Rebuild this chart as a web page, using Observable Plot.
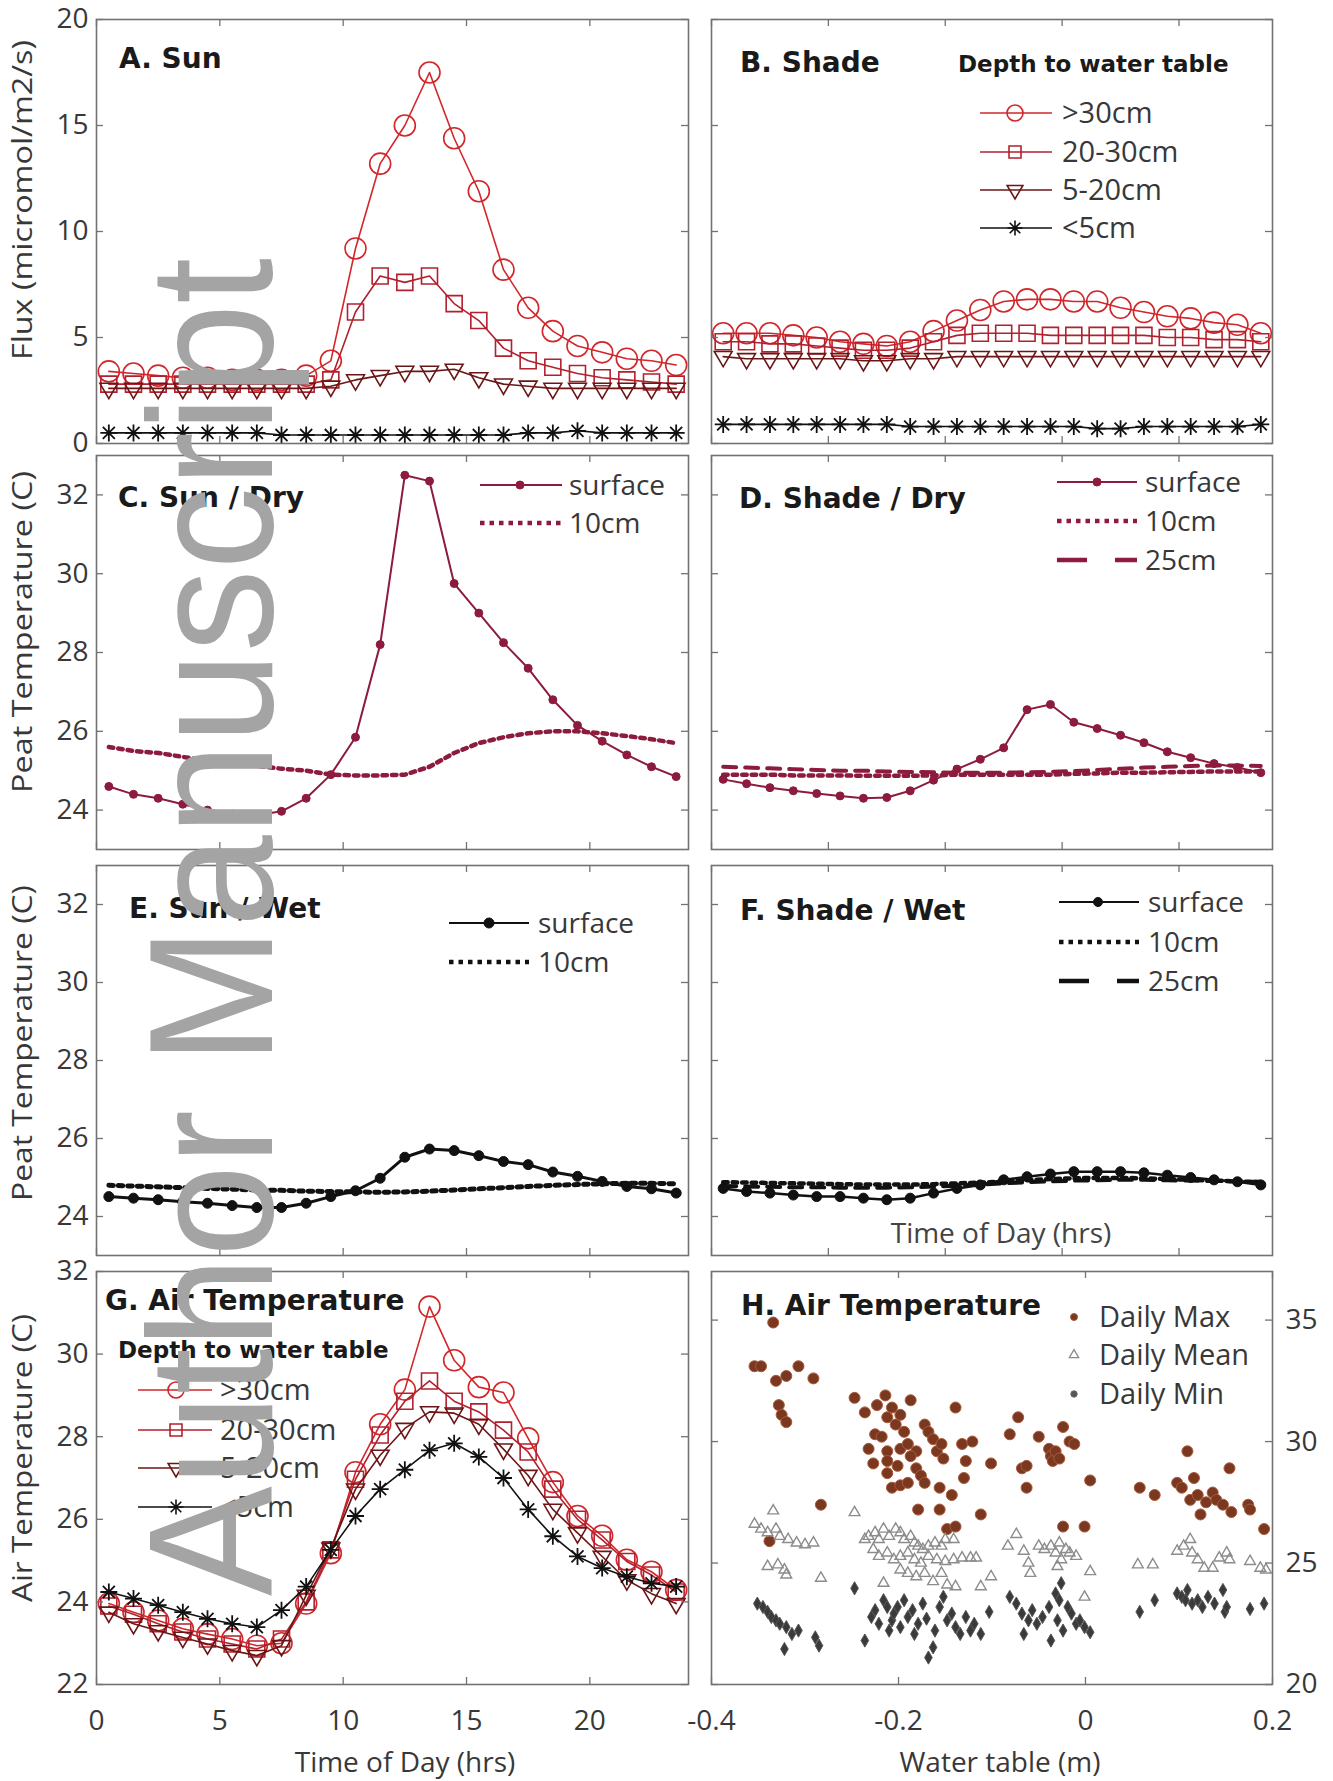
<!DOCTYPE html>
<html><head><meta charset="utf-8">
<script src="https://cdn.jsdelivr.net/npm/d3@7"></script>
<script src="https://cdn.jsdelivr.net/npm/@observablehq/plot@0.6"></script>
<style>
html,body{margin:0;padding:0;background:#fff;}
#fig{position:relative;width:1333px;height:1781px;overflow:hidden;background:#fff;}
</style></head>
<body><div id="fig"></div>
<script>
// ---------------- DATA ----------------
const hours = [0.5,1.5,2.5,3.5,4.5,5.5,6.5,7.5,8.5,9.5,10.5,11.5,12.5,13.5,14.5,15.5,16.5,17.5,18.5,19.5,20.5,21.5,22.5,23.5];

// A. Sun – flux (micromol/m2/s)
const sunGT30 = [3.4,3.3,3.2,3.1,3.1,3.0,3.0,3.0,3.2,3.9,9.2,13.2,15.0,17.5,14.4,11.9,8.2,6.4,5.3,4.6,4.3,4.0,3.9,3.7];
const sun2030 = [2.8,2.8,2.8,2.8,2.8,2.8,2.8,2.8,2.8,3.0,6.2,7.9,7.6,7.9,6.6,5.8,4.5,3.9,3.6,3.3,3.1,3.0,2.9,2.8];
const sun520  = [2.6,2.6,2.6,2.6,2.6,2.6,2.6,2.6,2.6,2.7,3.0,3.2,3.4,3.4,3.5,3.1,2.8,2.7,2.6,2.6,2.6,2.6,2.6,2.6];
const sunLT5  = [0.5,0.5,0.5,0.5,0.5,0.5,0.5,0.4,0.4,0.4,0.4,0.4,0.4,0.4,0.4,0.4,0.4,0.5,0.5,0.6,0.5,0.5,0.5,0.5];

// B. Shade – flux
const shadeGT30 = [5.2,5.2,5.2,5.1,5.0,4.8,4.7,4.6,4.8,5.3,5.8,6.3,6.7,6.8,6.8,6.7,6.7,6.4,6.2,6.0,5.9,5.7,5.6,5.2];
const shade2030 = [4.8,4.8,4.7,4.7,4.6,4.5,4.4,4.4,4.5,4.8,5.1,5.2,5.2,5.2,5.1,5.1,5.1,5.1,5.1,5.0,5.0,4.9,4.9,4.8];
const shade520  = [4.1,4.0,4.0,4.0,4.0,4.0,3.9,3.9,4.0,4.0,4.1,4.1,4.1,4.1,4.1,4.1,4.1,4.1,4.1,4.1,4.1,4.1,4.1,4.1];
const shadeLT5  = [0.9,0.9,0.9,0.9,0.9,0.9,0.9,0.9,0.8,0.8,0.8,0.8,0.8,0.8,0.8,0.8,0.7,0.7,0.8,0.8,0.8,0.8,0.8,0.9];

// C. Sun / Dry – peat temperature (C)
const sunDrySurf = [24.6,24.4,24.3,24.15,24.0,23.9,23.87,23.97,24.3,24.9,25.85,28.2,32.5,32.35,29.75,29.0,28.25,27.6,26.8,26.15,25.75,25.4,25.1,24.85];
const sunDry10   = [25.6,25.5,25.45,25.35,25.25,25.2,25.12,25.05,25.0,24.9,24.88,24.88,24.9,25.1,25.45,25.7,25.85,25.95,26.0,26.0,25.95,25.88,25.8,25.7];

// D. Shade / Dry
const shadeDrySurf = [24.78,24.67,24.57,24.49,24.42,24.36,24.3,24.32,24.49,24.76,25.04,25.29,25.58,26.55,26.68,26.23,26.07,25.9,25.71,25.48,25.33,25.18,25.08,24.95];
const shadeDry10   = [24.9,24.9,24.9,24.88,24.88,24.88,24.87,24.87,24.87,24.88,24.9,24.9,24.9,24.9,24.9,24.92,24.93,24.95,24.95,24.96,24.97,24.98,24.98,24.98];
const shadeDry25   = [25.1,25.08,25.06,25.04,25.02,25.0,25.0,24.98,24.97,24.96,24.95,24.95,24.95,24.96,24.97,24.99,25.02,25.05,25.08,25.1,25.12,25.13,25.13,25.12];

// E. Sun / Wet
const sunWetSurf = [24.51,24.47,24.43,24.38,24.34,24.28,24.23,24.23,24.34,24.51,24.66,24.98,25.52,25.73,25.69,25.56,25.41,25.33,25.14,25.03,24.9,24.77,24.71,24.6];
const sunWet10   = [24.8,24.78,24.76,24.74,24.72,24.7,24.68,24.67,24.65,24.64,24.63,24.62,24.63,24.65,24.68,24.71,24.74,24.77,24.8,24.82,24.84,24.85,24.85,24.84];

// F. Shade / Wet
const shadeWetSurf = [24.72,24.64,24.6,24.55,24.51,24.51,24.47,24.43,24.47,24.6,24.72,24.81,24.94,25.02,25.09,25.15,25.15,25.15,25.12,25.06,25.0,24.94,24.89,24.81];
const shadeWet10   = [24.88,24.87,24.86,24.85,24.84,24.83,24.82,24.82,24.82,24.83,24.85,24.87,24.9,24.93,24.96,24.98,24.99,24.99,24.98,24.96,24.94,24.92,24.9,24.88];
const shadeWet25   = [24.78,24.77,24.76,24.75,24.75,24.74,24.74,24.74,24.75,24.77,24.79,24.82,24.85,24.88,24.9,24.92,24.93,24.94,24.94,24.93,24.92,24.91,24.9,24.89];

// G. Air temperature (C)
const airGT30 = [23.96,23.75,23.55,23.35,23.22,23.1,22.94,23.0,23.96,25.18,27.14,28.3,29.14,31.15,29.85,29.2,29.07,27.96,26.9,26.08,25.6,25.02,24.73,24.29];
const air2030 = [23.9,23.7,23.47,23.27,23.1,22.98,22.86,23.1,24.0,25.26,26.97,28.04,28.86,29.35,28.86,28.6,28.16,27.63,26.73,26.0,25.5,24.98,24.65,24.24];
const air520  = [23.75,23.47,23.3,23.14,22.98,22.82,22.7,22.94,24.16,25.3,26.73,27.55,28.2,28.6,28.57,28.3,27.7,27.06,26.24,25.67,25.1,24.53,24.2,23.96];
const airLT5  = [24.24,24.08,23.92,23.75,23.59,23.47,23.39,23.8,24.37,25.26,26.08,26.73,27.2,27.67,27.84,27.51,27.0,26.24,25.59,25.1,24.82,24.61,24.45,24.37];

// H. Daily air temperature vs water table (m)
const hMaxWT = [-0.334,-0.354,-0.347,-0.331,-0.320,-0.307,-0.291,-0.328,-0.325,-0.320,-0.283,-0.338,-0.247,-0.236,-0.223,-0.214,-0.207,-0.198,-0.187,-0.212,-0.203,-0.194,-0.225,-0.218,-0.232,-0.212,-0.198,-0.190,-0.181,-0.172,-0.168,-0.163,-0.159,-0.154,-0.152,-0.227,-0.212,-0.201,-0.187,-0.181,-0.176,-0.212,-0.207,-0.198,-0.190,-0.172,-0.156,-0.143,-0.179,-0.156,-0.139,-0.132,-0.121,-0.128,-0.130,-0.112,-0.101,-0.148,-0.139,-0.081,-0.072,-0.068,-0.063,-0.063,-0.050,-0.039,-0.037,-0.035,-0.032,-0.028,-0.024,-0.017,-0.012,-0.024,-0.001,0.005,0.058,0.074,0.098,0.103,0.109,0.116,0.112,0.120,0.123,0.129,0.136,0.140,0.147,0.154,0.156,0.174,0.176,0.191];
const hMaxT  = [34.9,33.1,33.1,32.5,32.7,33.1,32.6,31.5,31.1,30.8,27.4,25.9,31.8,31.2,31.5,31.9,31.4,31.1,31.7,31.0,30.7,30.4,30.3,30.2,29.7,29.6,29.7,29.9,29.6,30.7,30.4,30.1,29.6,29.9,29.3,29.1,29.2,29.0,29.4,28.9,28.6,28.7,28.1,28.2,28.3,28.3,28.1,27.8,27.2,27.2,31.4,29.9,30.0,29.2,28.5,27.0,29.1,26.4,26.5,30.3,31.0,28.9,29.0,28.1,30.2,29.7,29.4,29.2,29.6,29.3,30.6,30.0,29.9,26.5,26.5,28.4,28.1,27.8,28.3,28.1,29.6,28.5,27.6,27.8,27.0,27.5,27.9,27.6,27.4,28.9,27.1,27.4,27.2,26.4];
const hMeanWT = [-0.334,-0.354,-0.347,-0.340,-0.331,-0.327,-0.318,-0.309,-0.300,-0.291,-0.340,-0.329,-0.322,-0.320,-0.283,-0.247,-0.236,-0.232,-0.225,-0.221,-0.216,-0.210,-0.203,-0.198,-0.194,-0.187,-0.183,-0.179,-0.174,-0.168,-0.161,-0.154,-0.150,-0.141,-0.227,-0.221,-0.212,-0.205,-0.198,-0.190,-0.183,-0.176,-0.168,-0.159,-0.150,-0.141,-0.132,-0.123,-0.117,-0.216,-0.198,-0.190,-0.181,-0.172,-0.163,-0.154,-0.148,-0.139,-0.112,-0.101,-0.083,-0.074,-0.066,-0.061,-0.059,-0.050,-0.044,-0.037,-0.032,-0.028,-0.026,-0.021,-0.017,-0.010,-0.030,0.005,-0.001,0.056,0.072,0.098,0.105,0.112,0.114,0.120,0.127,0.136,0.143,0.151,0.154,0.176,0.187,0.193];
const hMeanT  = [27.15,26.6,26.4,26.25,26.4,26.1,25.97,25.83,25.76,25.83,24.86,24.93,24.72,24.51,24.38,27.08,25.97,26.1,26.25,25.97,26.4,26.1,26.4,26.25,25.97,26.1,25.83,25.7,25.56,25.7,25.83,25.7,25.97,25.97,25.56,25.28,25.42,25.14,25.28,25.42,25.14,25.0,25.28,25.14,25.07,25.14,25.21,25.21,25.21,24.17,24.72,24.58,24.44,24.58,24.24,24.58,24.1,24.03,24.03,24.44,25.7,26.18,25.49,25.0,24.58,25.7,25.56,25.7,25.42,25.83,25.14,25.56,25.42,25.28,24.86,24.65,23.6,24.93,24.93,25.49,25.7,25.97,25.42,25.14,24.79,24.79,25.21,25.42,25.14,25.07,24.79,24.72];
const hMinWT = [-0.247,-0.351,-0.345,-0.340,-0.336,-0.331,-0.327,-0.320,-0.314,-0.307,-0.322,-0.289,-0.285,-0.236,-0.229,-0.225,-0.221,-0.216,-0.212,-0.210,-0.207,-0.205,-0.201,-0.198,-0.194,-0.190,-0.185,-0.183,-0.179,-0.174,-0.170,-0.168,-0.163,-0.161,-0.156,-0.152,-0.148,-0.143,-0.139,-0.134,-0.128,-0.123,-0.119,-0.112,-0.103,-0.081,-0.074,-0.068,-0.066,-0.061,-0.057,-0.052,-0.046,-0.039,-0.037,-0.032,-0.030,-0.028,-0.026,-0.024,-0.019,-0.015,-0.010,-0.006,-0.001,0.005,0.058,0.074,0.098,0.103,0.107,0.109,0.114,0.120,0.125,0.131,0.138,0.147,0.149,0.151,0.176,0.191];
const hMinT  = [23.96,23.33,23.19,22.99,22.78,22.64,22.5,22.36,22.08,22.22,21.46,21.94,21.6,21.81,22.78,23.06,22.5,23.47,23.19,22.22,22.64,22.92,23.19,22.36,23.47,22.78,23.06,22.08,22.5,23.33,22.71,21.11,21.53,22.22,23.19,23.61,22.64,22.92,22.36,22.08,22.78,22.22,22.5,22.08,22.99,23.61,23.33,22.92,22.08,22.64,23.06,22.5,22.78,23.19,21.81,23.75,22.64,23.47,24.17,22.22,23.19,22.92,22.5,22.64,22.36,22.15,22.99,23.47,23.75,23.61,23.47,23.89,23.33,23.47,23.19,23.61,23.33,23.89,22.99,23.19,23.11,23.33];

// tick values
const hourTicks = [0,5,10,15,20];
const fluxTicks = [0,5,10,15,20];
const peatTicks = [24,26,28,30,32];
const airTicks  = [22,24,26,28,30,32];
const wtTicks   = [-0.4,-0.2,0,0.2];
const hTempTicks = [20,25,30,35];

// ---------------- STYLE ----------------
const fig = document.getElementById("fig");
const OS = "'Open Sans', sans-serif";
const DJ = "'DejaVu Sans', Verdana, sans-serif";
const TXT = "#383838";
const FRAME = "#727272";
const RED1 = "#d2262a", RED2 = "#b2202e", RED3 = "#6a1616", BLK = "#111111";
const MAROON = "#8c1b3d";

const triDown = {draw(ctx, size){ const r = Math.sqrt(size/Math.PI); const w = r*1.05, h = r*1.8;
  ctx.moveTo(-w, -h/3); ctx.lineTo(w, -h/3); ctx.lineTo(0, 2*h/3); ctx.closePath(); }};
const aster = {draw(ctx, size){ const r = Math.sqrt(size/Math.PI);
  for (let k = 0; k < 4; k++){ const a = k*Math.PI/4, c = Math.cos(a)*r, s = Math.sin(a)*r; ctx.moveTo(-c,-s); ctx.lineTo(c,s); } }};
const sqr = {draw(ctx, size){ const r = Math.sqrt(size/Math.PI)*0.8; ctx.rect(-r,-r,2*r,2*r); }};

const FR = {
  A:{x0:96, x1:688, y0:19, y1:443},  B:{x0:711, x1:1272, y0:19, y1:443},
  C:{x0:96, x1:688, y0:455, y1:849}, D:{x0:711, x1:1272, y0:455, y1:849},
  E:{x0:96, x1:688, y0:865, y1:1255},F:{x0:711, x1:1272, y0:865, y1:1255},
  G:{x0:96, x1:688, y0:1271,y1:1684},H:{x0:711, x1:1272, y0:1271,y1:1684}
};

const X = (d,i) => hours[i];
function ser(vals, color, symbol, r, lw = 1.6, mw = 1.6) {
  return [
    Plot.line(vals, {x: X, y: d => d, stroke: color, strokeWidth: lw}),
    Plot.dot(vals, {x: X, y: d => d, symbol, r, stroke: color, fill: "none", strokeWidth: mw})
  ];
}
function surf(vals, color, lw, r) {
  return [
    Plot.line(vals, {x: X, y: d => d, stroke: color, strokeWidth: lw}),
    Plot.dot(vals, {x: X, y: d => d, r, fill: color, stroke: color, strokeWidth: 1})
  ];
}
function dotted(vals, color, w = 4.5) {
  return Plot.line(vals, {x: X, y: d => d, stroke: color, strokeWidth: w, strokeDasharray: "4.5,5"});
}
function dashed(vals, color, w = 4) {
  return Plot.line(vals, {x: X, y: d => d, stroke: color, strokeWidth: w, strokeDasharray: "13,9"});
}

function panel(f, o) {
  const mL = 80, mR = 80, mT = 10, mB = 70;
  const W = f.x1 - f.x0, H = f.y1 - f.y0;
  const marks = [
    ...o.marks,
    Plot.frame({stroke: FRAME, strokeWidth: 1.6}),
    Plot.tickX(o.xTicks, {x: d => d, insetTop: H - 7, stroke: FRAME, strokeWidth: 1.3}),
    Plot.tickX(o.xTicks, {x: d => d, insetBottom: H - 7, stroke: FRAME, strokeWidth: 1.3}),
    Plot.tickY(o.yTicks, {y: d => d, insetRight: W - 7, stroke: FRAME, strokeWidth: 1.3}),
    Plot.tickY(o.yTicks, {y: d => d, insetLeft: W - 7, stroke: FRAME, strokeWidth: 1.3})
  ];
  if (o.xLabels) marks.push(Plot.axisX(o.xTicks, {anchor: "bottom", tickSize: 0, tickPadding: 26, label: null,
      tickFormat: d => String(d), fontSize: 28, fill: TXT}));
  if (o.yLabels) marks.push(Plot.axisY(o.yTicks, {anchor: o.yLabels, tickSize: 0, tickPadding: o.yLabels === "left" ? 8 : 13,
      label: null, tickFormat: d => String(d), fontSize: 28, fill: TXT}));
  const svg = Plot.plot({
    width: W + mL + mR, height: H + mT + mB,
    marginLeft: mL, marginRight: mR, marginTop: mT, marginBottom: mB,
    x: {domain: o.xDomain, axis: null},
    y: {domain: o.yDomain, axis: null},
    style: {background: "transparent", fontFamily: OS, overflow: "visible", maxWidth: "none"},
    marks
  });
  svg.style.position = "absolute";
  svg.style.left = (f.x0 - mL) + "px";
  svg.style.top = (f.y0 - mT) + "px";
  fig.appendChild(svg);
}

// A
panel(FR.A, {xDomain: [0,24], yDomain: [0,20], xTicks: hourTicks, yTicks: fluxTicks, yLabels: "left",
  marks: [...ser(sunGT30, RED1, "circle", 10.5), ...ser(sun2030, RED2, sqr, 10), ...ser(sun520, RED3, triDown, 8.5), ...ser(sunLT5, BLK, aster, 8.5, 1.6, 1.8)]});
// B
panel(FR.B, {xDomain: [0,24], yDomain: [0,20], xTicks: hourTicks, yTicks: fluxTicks,
  marks: [...ser(shadeGT30, RED1, "circle", 10.5), ...ser(shade2030, RED2, sqr, 10), ...ser(shade520, RED3, triDown, 8.5), ...ser(shadeLT5, BLK, aster, 8.5, 1.6, 1.8)]});
// C
panel(FR.C, {xDomain: [0,24], yDomain: [23,33], xTicks: hourTicks, yTicks: peatTicks, yLabels: "left",
  marks: [dotted(sunDry10, MAROON), ...surf(sunDrySurf, MAROON, 2, 4)]});
// D
panel(FR.D, {xDomain: [0,24], yDomain: [23,33], xTicks: hourTicks, yTicks: peatTicks,
  marks: [dashed(shadeDry25, MAROON), dotted(shadeDry10, MAROON), ...surf(shadeDrySurf, MAROON, 2, 4)]});
// E
panel(FR.E, {xDomain: [0,24], yDomain: [23,33], xTicks: hourTicks, yTicks: peatTicks, yLabels: "left",
  marks: [dotted(sunWet10, BLK, 5), ...surf(sunWetSurf, BLK, 3, 5)]});
// F
panel(FR.F, {xDomain: [0,24], yDomain: [23,33], xTicks: hourTicks, yTicks: peatTicks,
  marks: [dashed(shadeWet25, BLK, 4), dotted(shadeWet10, BLK, 4.5), ...surf(shadeWetSurf, BLK, 2.5, 5)]});
// G
panel(FR.G, {xDomain: [0,24], yDomain: [22,32], xTicks: hourTicks, yTicks: airTicks, xLabels: true, yLabels: "left",
  marks: [...ser(airGT30, RED1, "circle", 10.5), ...ser(air2030, RED2, sqr, 10), ...ser(air520, RED3, triDown, 8.5), ...ser(airLT5, BLK, aster, 8.5, 1.6, 1.8)]});
// H
panel(FR.H, {xDomain: [-0.4,0.2], yDomain: [20,37], xTicks: wtTicks, yTicks: hTempTicks, xLabels: true, yLabels: "right",
  marks: [
    Plot.dot(hMaxT, {x: (d,i) => hMaxWT[i], y: d => d, r: 5.5, fill: "#7b3820", stroke: "#a85a3a", strokeWidth: 1}),
    Plot.dot(hMeanT, {x: (d,i) => hMeanWT[i], y: d => d, symbol: "triangle", r: 4, fill: "none", stroke: "#8c8c8c", strokeWidth: 1.4}),
    Plot.dot(hMinT, {x: (d,i) => hMinWT[i], y: d => d, symbol: "diamond", r: 4, fill: "#3a3a3a", stroke: "#555", strokeWidth: 1})
  ]});

// ---------------- OVERLAY: titles, legends, labels, watermark ----------------
const ov = d3.select(fig).append("svg").attr("width", 1333).attr("height", 1781)
  .style("position", "absolute").style("left", "0px").style("top", "0px").style("pointer-events", "none");

function txt(x, y, s, o = {}) {
  const t = ov.append("text")
    .attr("transform", `translate(${x},${y})` + (o.rot ? ` rotate(${o.rot})` : ""))
    .attr("font-family", o.family || OS).attr("font-size", o.size || 28).attr("font-weight", o.weight || 400)
    .attr("fill", o.fill || TXT).attr("text-anchor", o.anchor || "start").text(s);
  if (o.dy) t.attr("dy", o.dy);
  if (o.len) t.attr("textLength", o.len).attr("lengthAdjust", "spacingAndGlyphs");
  return t;
}
function title(x, y, s) { txt(x, y, s, {family: DJ, weight: 700, size: 28, fill: "#1a1a1a"}); }
function legLine(x0, x1, y, color, w, dash) {
  ov.append("line").attr("x1", x0).attr("x2", x1).attr("y1", y).attr("y2", y)
    .attr("stroke", color).attr("stroke-width", w).attr("stroke-dasharray", dash || null);
}
function legSym(x, y, type, r, stroke, fill, sw) {
  ov.append("path").attr("transform", `translate(${x},${y})`).attr("d", d3.symbol(type, Math.PI*r*r)())
    .attr("stroke", stroke).attr("fill", fill).attr("stroke-width", sw);
}

// titles
title(119, 68, "A. Sun");
title(740, 72, "B. Shade");
title(118, 507, "C. Sun / Dry");
title(739, 508, "D. Shade / Dry");
title(129, 918, "E. Sun / Wet");
title(740, 920, "F. Shade / Wet");
title(105, 1310, "G. Air Temperature");
title(741, 1315, "H. Air Temperature");

// depth legends (B and G)
const depthRows = [
  {label: ">30cm", color: RED1, sym: d3.symbolCircle, r: 8},
  {label: "20-30cm", color: RED2, sym: sqr, r: 7.5},
  {label: "5-20cm", color: RED3, sym: triDown, r: 7.5},
  {label: "<5cm", color: BLK, sym: aster, r: 7.5}
];
function depthLegend(hx, hy, lx0, lx1, mx, tx, ys) {
  txt(hx, hy, "Depth to water table", {family: DJ, weight: 700, size: 23, fill: "#1a1a1a"});
  depthRows.forEach((d, k) => {
    legLine(lx0, lx1, ys[k], d.color, 1.6);
    legSym(mx, ys[k], d.sym, d.r, d.color, "none", 1.6);
    txt(tx, ys[k], d.label, {size: 29, dy: "0.36em"});
  });
}
depthLegend(958, 72, 980, 1052, 1015, 1062, [113, 152, 190, 228]);
depthLegend(118, 1358, 138, 212, 176, 220, [1390, 1430, 1468, 1507]);

// depth-temperature legends
function tempLegend(lx0, lx1, mx, tx, ys, color, n, dotR) {
  legLine(lx0, lx1, ys[0], color, 2);
  legSym(mx, ys[0], d3.symbolCircle, dotR, color, color, 1);
  txt(tx, ys[0], "surface", {size: 28, dy: "0.36em"});
  legLine(lx0, lx1, ys[1], color, 4.5, "4.5,5");
  txt(tx, ys[1], "10cm", {size: 28, dy: "0.36em"});
  if (n > 2) {
    legLine(lx0, lx1, ys[2], color, 4.5, "30,28");
    txt(tx, ys[2], "25cm", {size: 28, dy: "0.36em"});
  }
}
tempLegend(480, 562, 520, 569, [485, 523], MAROON, 2, 4);
tempLegend(1057, 1137, 1097, 1145, [482, 521, 560], MAROON, 3, 4);
tempLegend(449, 529, 489, 538, [923, 962], BLK, 2, 5);
tempLegend(1059, 1139, 1098, 1148, [902, 942, 981], BLK, 3, 4.5);

// H legend
legSym(1074, 1317, d3.symbolCircle, 3.5, "#a85a3a", "#7b3820", 1);
txt(1099, 1317, "Daily Max", {size: 29, dy: "0.36em"});
legSym(1074, 1355, d3.symbolTriangle, 3.5, "#8c8c8c", "none", 1.3);
txt(1099, 1355, "Daily Mean", {size: 29, dy: "0.36em"});
legSym(1074, 1394, d3.symbolCircle, 3.2, "#666", "#555", 1);
txt(1099, 1394, "Daily Min", {size: 29, dy: "0.36em"});

// axis labels
txt(32, 200, "Flux (micromol/m2/s)", {rot: -90, anchor: "middle", size: 27, len: 320});
txt(32, 632, "Peat Temperature (C)", {rot: -90, anchor: "middle", size: 27, len: 322});
txt(32, 1043, "Peat Temperature (C)", {rot: -90, anchor: "middle", size: 27, len: 316});
txt(32, 1458, "Air Temperature (C)", {rot: -90, anchor: "middle", size: 27, len: 288});
txt(405, 1772, "Time of Day (hrs)", {anchor: "middle", size: 28});
txt(1000, 1772, "Water table (m)", {anchor: "middle", size: 28});
txt(1001, 1243, "Time of Day (hrs)", {anchor: "middle", size: 28, fill: "#444"});

// watermark
ov.append("text").attr("transform", "translate(272,1596) rotate(-90)")
  .attr("font-family", "'Liberation Sans', Arial, sans-serif").attr("font-size", 176)
  .attr("fill", "#a4a4a4").attr("textLength", 1338).attr("lengthAdjust", "spacingAndGlyphs")
  .text("Author Manuscript");
</script>
</body></html>
